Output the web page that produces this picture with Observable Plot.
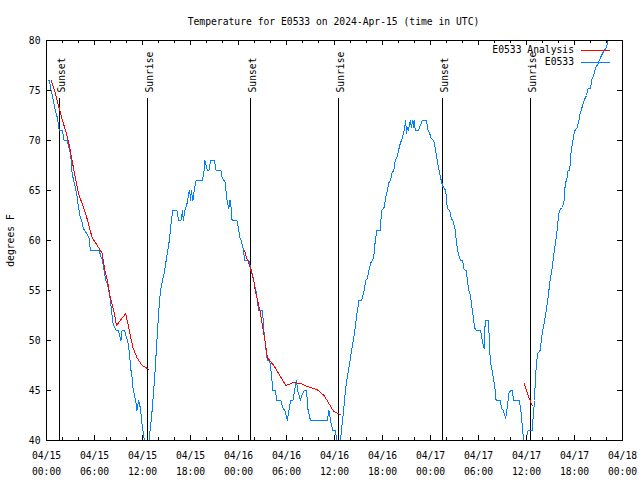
<!DOCTYPE html>
<html><head><meta charset="utf-8">
<script src="https://cdn.jsdelivr.net/npm/d3@7"></script>
<script src="https://cdn.jsdelivr.net/npm/@observablehq/plot@0.6"></script>
<style>body{margin:0;background:#fff;} svg{display:block;}</style>
</head><body><div id="chart"></div>
<script>
const title = "Temperature for E0533 on 2024-Apr-15 (time in UTC)";
const yLabel = "degrees F";
const seriesNames = ["E0533 Analysis", "E0533"];
const seriesColors = ["#ff0000", "#0080ff"];
const xTickHours = [0, 6, 12, 18, 24, 30, 36, 42, 48, 54, 60, 66, 72];
const xTickLabels = ["04/15\n00:00","04/15\n06:00","04/15\n12:00","04/15\n18:00","04/16\n00:00","04/16\n06:00","04/16\n12:00","04/16\n18:00","04/17\n00:00","04/17\n06:00","04/17\n12:00","04/17\n18:00","04/18\n00:00"];
const yTicks = [40, 45, 50, 55, 60, 65, 70, 75, 80];
const sunHours = [1.66, 12.66, 25.54, 36.54, 49.54, 60.54];
const sunLabels = ["Sunset", "Sunrise", "Sunset", "Sunrise", "Sunset", "Sunrise"];

// hours since 04/15 00:00 UTC, temperature in °F
const observed = [
[0.25,76],[0.4,76],[0.5,75],[0.6,75],[0.85,74],[1.1,73],[1.35,72.3],[1.6,71],[2.0,71],[2.2,70],[2.6,70],[2.9,69],[3.1,68],
[3.2,66.7],[3.6,65.3],[3.8,64.5],[4.0,63.3],[4.25,62.2],[4.4,62],[4.6,61.2],[4.8,61],[5.3,60.3],[5.5,59],[6.6,59],[6.75,58.5],
[7.0,58],[7.2,57],[7.4,56],[7.6,55.7],[7.9,54.5],[8.0,53.8],[8.1,53.2],[8.3,51.8],[8.5,51.3],[8.75,51],[9.0,51],[9.3,50],
[9.45,51],[9.75,51],[10.0,50.3],[10.2,49.7],[10.4,48.5],[10.5,47.3],[10.67,46.5],[10.8,45.3],[11.0,44.5],[11.2,43.7],[11.3,43],
[11.5,44],[11.6,43.7],[11.75,43.2],[11.96,41.5],[12.1,40.7],[12.25,40],[12.4,39],[12.6,39],[12.8,40],[13.0,41.3],[13.2,43],
[13.4,45],[13.6,47.3],[13.8,50],[14.04,53],[14.25,55],[14.5,56],[14.7,56.7],[14.9,57.7],[15.1,58.7],[15.3,59.7],[15.5,61],
[15.6,62],[15.8,63],[16.3,63],[16.5,62],[16.8,62],[17.0,63],[17.1,62],[17.3,63],[17.6,63.8],[17.8,64.8],[17.9,65],[18.0,64],
[18.1,65],[18.3,64],[18.5,65.2],[18.7,66],[19.5,66],[19.7,67],[19.8,68],[19.95,67.5],[20.1,67],[20.3,67],[20.5,68],[21.0,68],
[21.2,67],[21.8,67],[21.95,66.3],[22.2,66],[22.4,65.7],[22.45,64.7],[22.6,63.8],[22.8,63.2],[22.9,64],[23.0,64],[23.2,62],
[23.8,62],[24.0,61.2],[24.2,60.2],[24.35,60],[24.55,59.3],[24.7,58.5],[24.8,58],[25.3,58],[25.5,57.3],[25.7,56.7],[25.9,56],
[26.25,54.7],[26.5,53],[27.0,53],[27.2,50.7],[27.4,49.3],[27.6,48],[27.9,48],[28.1,46.7],[28.3,45],[28.6,45],[28.8,44],[29.3,44],
[29.5,43.3],[29.8,43],[30.1,42],[30.3,43],[30.5,44],[30.8,44],[31.0,45],[31.25,46],[31.4,45],[31.75,44],[31.9,44.5],[32.25,45],
[32.5,45],[32.7,43],[33.0,42],[35.1,42],[35.3,43],[35.5,42],[35.8,41],[36.1,41],[36.3,40],[36.5,39],[36.75,40],[37.0,42],
[37.2,43.5],[37.4,45.3],[37.6,46.3],[37.8,47.3],[38.0,48.3],[38.2,49.3],[38.4,50.3],[38.6,51.3],[38.8,52.7],[39.0,53.7],[39.05,54],
[39.4,54],[39.7,55],[39.9,56],[40.1,56.2],[40.3,57],[40.5,57.7],[40.7,58],[40.9,58.3],[41.1,60],[41.3,61],[41.7,61],[41.9,63],
[42.2,63.3],[42.4,64.3],[42.6,65],[42.8,65.8],[43.0,66],[43.2,66.8],[43.4,67],[43.6,68],[43.8,68.3],[44.0,69],[44.25,69.8],
[44.4,70],[44.7,71],[44.9,72],[45.0,70.7],[45.1,71.3],[45.2,71],[45.5,72],[45.6,71.3],[45.8,72],[45.9,71.3],[45.96,72],[46.1,71],
[46.5,71],[46.96,72],[47.5,72],[47.7,71],[47.9,70.7],[48.1,70.2],[48.4,70],[48.6,69.2],[48.8,68.2],[49.0,67.3],[49.25,66.3],
[49.5,65.5],[49.7,65.2],[49.9,65],[50.1,63.2],[50.4,63],[50.6,62.2],[50.8,62],[51.1,61],[51.25,59.7],[51.5,58.6],[51.75,58],
[52.0,58],[52.2,57.1],[52.5,57],[52.6,56],[52.8,55],[53.0,54.5],[53.2,53.2],[53.35,52.3],[53.5,51.3],[53.7,51],[54.25,51],
[54.4,50.3],[54.55,49.7],[54.7,49.2],[54.8,51.3],[54.9,52],[55.2,52],[55.3,51],[55.4,49],[55.5,47.8],[55.7,47],[55.9,46],
[56.1,45],[56.2,44],[56.7,44],[56.9,43.2],[57.1,43],[57.4,42.2],[57.6,43.3],[57.8,44.7],[58.0,45],[58.2,45],[58.4,44],[59.1,44],
[59.25,43.3],[59.4,42.3],[59.5,41],[59.7,40],[59.85,39.5],[60.0,40.3],[60.2,41],[60.7,41],[60.8,42],[61.0,44],[61.1,46],
[61.25,47.7],[61.4,48.7],[61.7,49],[61.8,49.7],[61.96,50.7],[62.2,51.7],[62.4,52.7],[62.6,53.7],[62.8,55],[63.0,56.3],[63.2,57.2],
[63.4,58.5],[63.6,59.7],[63.8,60.8],[64.04,62.7],[64.2,63.1],[64.5,63.3],[64.7,64],[64.75,65],[64.96,66],[65.1,66.3],[65.2,67],
[65.4,67],[65.5,68.2],[65.6,69],[65.9,70.5],[66.1,71.1],[66.3,71.2],[66.5,71.8],[66.7,72.7],[66.9,73.2],[67.2,74],[67.5,74.5],
[67.7,75.2],[68.0,75.2],[68.2,76.2],[68.4,76.5],[68.6,77.2],[68.96,77.7],[69.2,78.2],[69.5,78.7],[69.7,79],[70.0,79.3],[70.2,80],[70.5,81]
];

const analysisNight1 = [
[0.58,76],[1.0,75],[1.6,73.2],[2.0,72],[2.5,70.7],[2.9,69.3],[3.5,66.7],[4.0,64.7],[4.9,62.7],[5.7,60.3],[6.5,59.3],[6.96,58.7],
[7.25,57.2],[7.6,56],[8.0,54.2],[8.5,52.7],[8.75,51.5],[9.9,52.7],[10.3,51.2],[10.8,49.3],[11.3,48.3],[11.96,47.5],[12.8,47.1]
];
const analysisNight2 = [
[24.75,59],[25.0,58.3],[25.4,57.5],[25.9,56],[26.1,55],[26.3,54.3],[26.75,52.7],[27.25,50.3],[27.6,48.3],[28.4,47.5],[28.8,47],
[29.9,45.5],[30.9,45.8],[31.75,45.7],[32.6,45.4],[33.8,45.1],[34.7,44.5],[35.3,43.7],[35.9,42.9],[36.75,42.6]
];
const analysisNight3 = [[59.7,45.7],[60.2,44.5],[60.7,43.5]];

const font = "'DejaVu Sans Mono', monospace";
const obsData = observed.map(([h, t]) => ({h, t}));
const anaData = [analysisNight1, analysisNight2, analysisNight3]
  .flatMap((seg, k) => seg.map(([h, t]) => ({h, t, seg: k})));
const minorHours = d3.range(0, 73, 2).filter(h => !xTickHours.includes(h));
const crisp = {stroke: "black", shapeRendering: "crispEdges"};

const chart = Plot.plot({
  width: 640, height: 480,
  marginLeft: 46, marginRight: 18, marginTop: 40, marginBottom: 40,
  style: {fontFamily: font, fontSize: "9.7px", background: "white", color: "black"},
  x: {domain: [0, 72], label: null},
  y: {domain: [40, 80], label: null},
  marks: [
    Plot.ruleX(sunHours, {x: d => d, ...crisp, insetTop: 58}),
    Plot.text(sunHours, {x: d => d, text: (d, i) => sunLabels[i], frameAnchor: "top", dy: 52, dx: 2,
      rotate: -90, textAnchor: "start", lineAnchor: "middle", fill: "black"}),
    Plot.line(obsData, {x: "h", y: "t", stroke: seriesColors[1], strokeWidth: 1, clip: true, shapeRendering: "crispEdges"}),
    Plot.line(anaData, {x: "h", y: "t", z: "seg", stroke: seriesColors[0], strokeWidth: 1, clip: true, shapeRendering: "crispEdges"}),
    // inward ticks, gnuplot style
    Plot.ruleX(xTickHours, {x: d => d, ...crisp, insetTop: 395}),
    Plot.ruleX(xTickHours, {x: d => d, ...crisp, insetBottom: 395}),
    Plot.ruleX(minorHours, {x: d => d, ...crisp, insetTop: 397}),
    Plot.ruleX(minorHours, {x: d => d, ...crisp, insetBottom: 397}),
    Plot.ruleY(yTicks, {y: d => d, ...crisp, insetRight: 571}),
    Plot.ruleY(yTicks, {y: d => d, ...crisp, insetLeft: 571}),
    Plot.axisX({ticks: xTickHours, tickFormat: d => xTickLabels[xTickHours.indexOf(d)], tickSize: 0,
      tickPadding: 7, lineHeight: 1.65, lineAnchor: "top", label: null}),
    Plot.axisY({ticks: yTicks, tickFormat: d => String(d), tickSize: 0, tickPadding: 6, label: null}),
    Plot.frame({...crisp}),
    Plot.text([title], {text: d => d, frameAnchor: "top", dy: -19, dx: -1, lineAnchor: "middle", fill: "black"}),
    Plot.text([yLabel], {text: d => d, frameAnchor: "left", dx: -36, rotate: -90, textAnchor: "middle", lineAnchor: "middle", fill: "black"})
  ]
});
document.getElementById("chart").appendChild(chart);

// legend (top right, inside the frame)
const svg = d3.select(chart);
const lg = svg.append("g").attr("font-family", font).attr("font-size", "9.7px");
seriesNames.forEach((name, i) => {
  const y = 50 + i * 12;
  lg.append("text").attr("x", 574).attr("y", y).attr("dy", "0.35em").attr("text-anchor", "end")
    .attr("fill", "black").text(name);
  lg.append("line").attr("x1", 581).attr("x2", 610).attr("y1", y + 0.5).attr("y2", y + 0.5)
    .attr("stroke", seriesColors[i]).attr("stroke-width", 1).attr("shape-rendering", "crispEdges");
});
</script></body></html>
